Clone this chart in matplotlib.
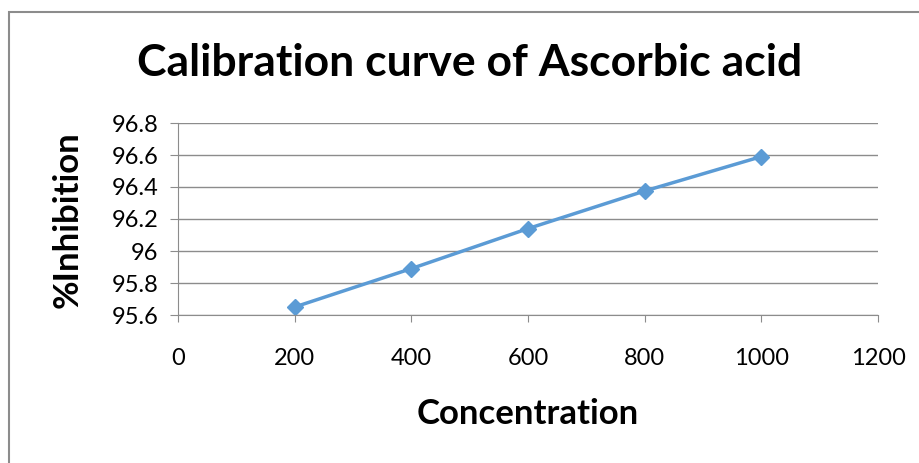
import matplotlib.pyplot as plt
from matplotlib.patches import Rectangle

# data
concentration = [200, 400, 600, 800, 1000]
inhibition = [95.65, 95.89, 96.14, 96.375, 96.59]
x_ticks = [0, 200, 400, 600, 800, 1000, 1200]
y_ticks = [95.6, 95.8, 96.0, 96.2, 96.4, 96.6, 96.8]
y_labels = ["95.6", "95.8", "96", "96.2", "96.4", "96.6", "96.8"]

plt.rcParams['font.family'] = ['Lato', 'DejaVu Sans']

fig = plt.figure(figsize=(9.2, 4.63), dpi=100)
# chart border (only left and top are visible in the reference)
fig.patches.append(Rectangle((9 / 920, -0.1), 1.2, 1 - 12 / 463 + 0.1, transform=fig.transFigure,
                             fill=False, edgecolor='#8c8c8c', linewidth=1.5))

ax = fig.add_axes([178 / 920, 1 - 315 / 463, 700 / 920, 192 / 463])
ax.plot(concentration, inhibition, color='#5b9bd5', linewidth=2.5, marker='D', markersize=8)

ax.set_xlim(0, 1200)
ax.set_ylim(95.6, 96.8)
ax.set_xticks(x_ticks)
ax.set_yticks(y_ticks)
ax.set_yticklabels(y_labels)
ax.yaxis.grid(True, color='#8c8c8c', linewidth=1)
ax.set_axisbelow(True)
for s in ['top', 'right']:
    ax.spines[s].set_visible(False)
for s in ['left', 'bottom']:
    ax.spines[s].set_color('#8c8c8c')
ax.tick_params(axis='x', direction='out', length=5, color='#8c8c8c', pad=19, labelsize=17)
ax.tick_params(axis='y', direction='out', length=6, color='#8c8c8c', pad=8, labelsize=17)

fig.text(470 / 920, 1 - 63 / 463, 'Calibration curve of Ascorbic acid', ha='center', va='center',
         fontsize=32, fontweight='bold')
fig.text(528 / 920, 1 - 414 / 463, 'Concentration', ha='center', va='center',
         fontsize=25, fontweight='bold')
fig.text(68 / 920, 1 - 220 / 463, '%Inhibition', ha='center', va='center', rotation=90,
         fontsize=25, fontweight='bold')

fig.savefig('out.png', dpi=100)
